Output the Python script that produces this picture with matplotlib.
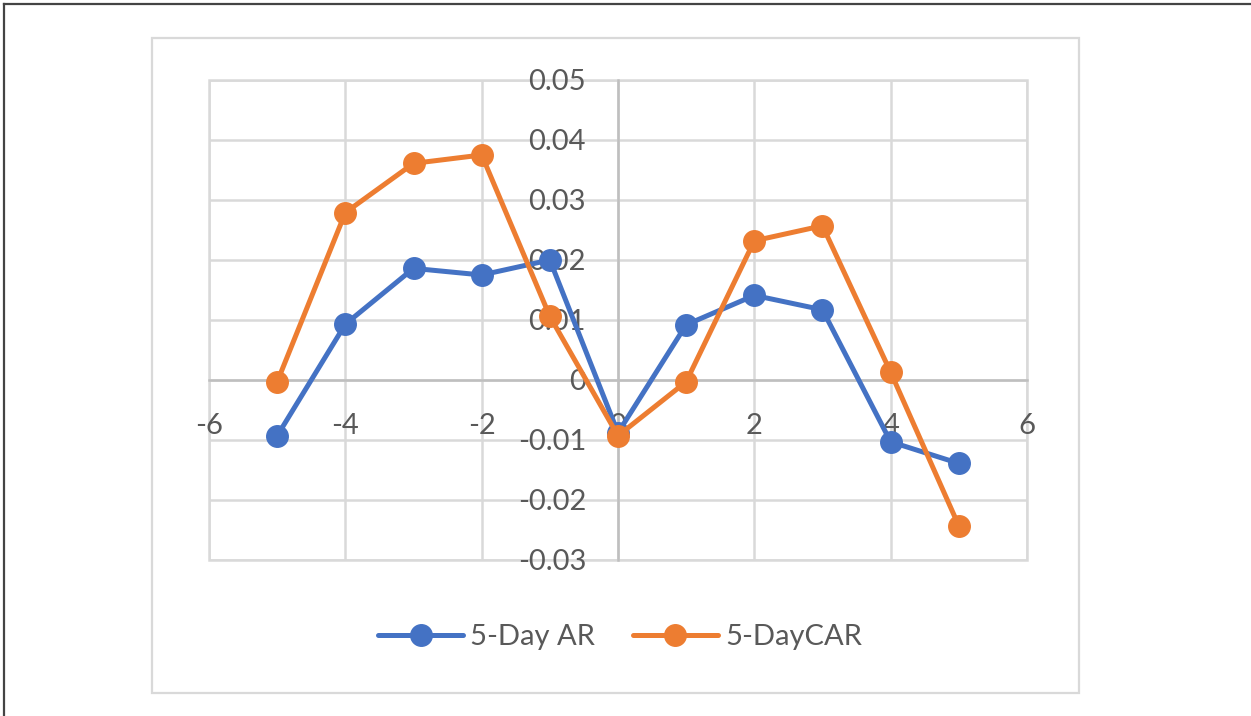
import matplotlib.pyplot as plt
from matplotlib.lines import Line2D
from matplotlib.patches import Rectangle

plt.rcParams['font.family'] = ['Lato', 'DejaVu Sans']

# Event window (days) and the two return series
days = [-5, -4, -3, -2, -1, 0, 1, 2, 3, 4, 5]
ar_5day = [-0.0093, 0.0093, 0.0186, 0.0175, 0.0200, -0.0088,
           0.0092, 0.0141, 0.0117, -0.0103, -0.0139]
car_5day = [-0.0003, 0.0279, 0.0361, 0.0375, 0.0106, -0.0093,
            -0.0003, 0.0232, 0.0257, 0.0013, -0.0243]

x_ticks = [-6, -4, -2, 0, 2, 4, 6]
y_ticks = [-0.03, -0.02, -0.01, 0, 0.01, 0.02, 0.03, 0.04, 0.05]
y_tick_labels = ['-0.03', '-0.02', '-0.01', '0', '0.01', '0.02', '0.03', '0.04', '0.05']

BLUE = '#4472c4'
ORANGE = '#ed7d31'
TEXT = '#595959'
GRID = '#d9d9d9'
AXIS = '#bfbfbf'
FS = 21

fig = plt.figure(figsize=(12.51, 7.16), dpi=100)
ax = fig.add_axes([0.1671, 0.2179, 0.8209 - 0.1671, 0.8883 - 0.2179])

# gridlines kept under the series, tick labels stay on top
for xv in x_ticks:
    ax.axvline(xv, color=GRID, lw=1.8, zorder=0.5)
for yv in y_ticks:
    ax.axhline(yv, color=GRID, lw=1.8, zorder=0.5)

ax.plot(days, ar_5day, color=BLUE, lw=3.6, marker='o', ms=15.5,
        label='5-Day AR', zorder=2, solid_capstyle='round')
ax.plot(days, car_5day, color=ORANGE, lw=3.6, marker='o', ms=15.5,
        label='5-DayCAR', zorder=2, solid_capstyle='round')

ax.set_xlim(-6, 6)
ax.set_ylim(-0.03, 0.05)
ax.set_xticks(x_ticks)
ax.set_xticklabels([str(v) for v in x_ticks])
ax.set_yticks(y_ticks)
ax.set_yticklabels(y_tick_labels)

# axes cross at the origin
for side in ('top', 'right'):
    ax.spines[side].set_visible(False)
ax.spines['left'].set_position(('data', 0))
ax.spines['bottom'].set_position(('data', 0))
for side in ('left', 'bottom'):
    ax.spines[side].set_color(AXIS)
    ax.spines[side].set_linewidth(1.8)
    ax.spines[side].set_zorder(1)

ax.tick_params(axis='both', length=0, labelsize=FS, labelcolor=TEXT)
ax.tick_params(axis='y', pad=23)
ax.tick_params(axis='x', pad=24)

# plot area border
ax.add_patch(Rectangle((0, 0), 1, 1, transform=ax.transAxes, fill=False,
                       edgecolor=GRID, lw=1.8, clip_on=False, zorder=0.6))

fig.legend(loc='center', bbox_to_anchor=(0.4956, 0.1103), ncol=2,
           frameon=False, fontsize=FS, labelcolor=TEXT,
           handlelength=2.9, handletextpad=0.25, columnspacing=1.3)

# chart frame and page edge
fig.patches.append(Rectangle((152 / 1251, 1 - 693 / 716), (1079 - 152) / 1251,
                             (693 - 38) / 716, transform=fig.transFigure,
                             fill=False, edgecolor=GRID, lw=1.6))
fig.lines.append(Line2D([4 / 1251, 4 / 1251], [0, 1 - 4 / 716],
                        transform=fig.transFigure, color='#444444', lw=1.6))
fig.lines.append(Line2D([4 / 1251, 1], [1 - 4 / 716, 1 - 4 / 716],
                        transform=fig.transFigure, color='#444444', lw=1.6))

fig.savefig('out.png', dpi=100)
